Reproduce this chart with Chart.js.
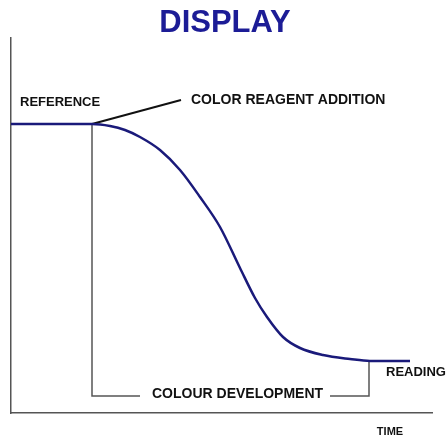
<!DOCTYPE html>
<html>
<head>
<meta charset="utf-8">
<script src="https://cdn.jsdelivr.net/npm/chart.js@4"></script>
<style>
html,body{margin:0;padding:0;background:#fff;}
canvas{display:block;}
</style>
</head>
<body>
<canvas id="c" width="448" height="436"></canvas>
<script>
// Display signal over time (x, y in arbitrary units)
const curveX = [0, 81, 99, 114, 129, 149, 169, 189, 209, 229, 244, 256, 272, 289, 312, 339, 359, 399];
const curveY = [289, 289, 287, 283, 276, 263, 243, 216, 186, 145, 115, 96, 76, 65, 58, 54, 52, 52];

// Annotation lines
const reagentX = [81, 170];
const reagentY = [289, 313];
const devLeftX = [81, 81, 129];
const devLeftY = [289, 17, 17];
const devRightX = [319, 358, 358];
const devRightY = [17, 17, 52];

const titleText = "DISPLAY";
const axisXLabel = "TIME";
const labelTexts = ["REFERENCE", "COLOR REAGENT ADDITION", "COLOUR DEVELOPMENT", "READING"];
const labelSizes = [13, 14, 14, 13];
const labelX = [9, 180, 141, 375];
const labelY = [311, 313, 19, 41];

const pts = (xs, ys) => xs.map((x, i) => ({x, y: ys[i]}));

const textPlugin = {
  id: 'texts',
  afterDraw(chart) {
    const ctx = chart.ctx, xs = chart.scales.x, ys = chart.scales.y;
    ctx.save();
    ctx.fillStyle = '#1c1c96';
    ctx.font = 'bold 31px "Liberation Sans", Arial, sans-serif';
    ctx.textAlign = 'center';
    ctx.textBaseline = 'middle';
    ctx.fillText(titleText, 225, 23);
    ctx.fillStyle = '#111';
    ctx.textAlign = 'left';
    labelTexts.forEach((t, i) => {
      ctx.font = 'bold ' + labelSizes[i] + 'px "Liberation Sans", Arial, sans-serif';
      ctx.fillText(t, xs.getPixelForValue(labelX[i]), ys.getPixelForValue(labelY[i]));
    });
    ctx.font = 'bold 11px "Liberation Sans", Arial, sans-serif';
    ctx.textAlign = 'center';
    ctx.fillText(axisXLabel, xs.getPixelForValue(379), ys.bottom + 19);
    ctx.restore();
  }
};

new Chart(document.getElementById('c'), {
  type: 'line',
  data: {
    datasets: [
      {data: pts(curveX, curveY), borderColor: '#1a1a7a', borderWidth: 2.5, pointRadius: 0, cubicInterpolationMode: 'monotone'},
      {data: pts(reagentX, reagentY), borderColor: '#111', borderWidth: 2, pointRadius: 0},
      {data: pts(devLeftX, devLeftY), borderColor: '#555', borderWidth: 1.5, pointRadius: 0},
      {data: pts(devRightX, devRightY), borderColor: '#555', borderWidth: 1.5, pointRadius: 0}
    ]
  },
  options: {
    responsive: false,
    animation: false,
    layout: {padding: {left: 11, right: 16, top: 38, bottom: 23}},
    plugins: {legend: {display: false}, tooltip: {enabled: false}, title: {display: false}},
    scales: {
      x: {type: 'linear', min: 0, max: 421, ticks: {display: false}, grid: {display: false, drawTicks: false},
          border: {display: true, color: '#555', width: 1.5},
          afterFit(s) { s.height = 0; }},
      y: {type: 'linear', min: 0, max: 375, ticks: {display: false}, grid: {display: false, drawTicks: false},
          border: {display: true, color: '#555', width: 1.5},
          afterFit(s) { s.width = 0; }}
    }
  },
  plugins: [textPlugin]
});
</script>
</body>
</html>
